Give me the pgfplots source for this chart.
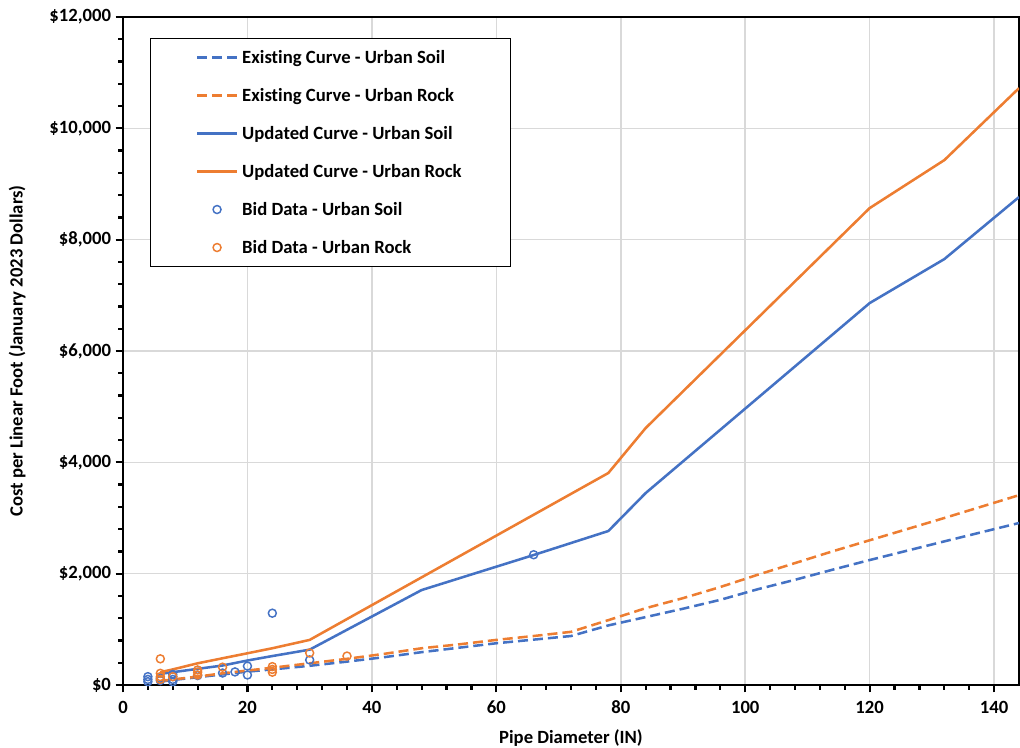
\documentclass[border=0pt]{standalone}
\usepackage{fontspec}
\setmainfont{Carlito}[Ligatures=NoCommon]
\usepackage{pgfplots}
\pgfplotsset{compat=1.18}
\definecolor{xblue}{HTML}{4472C4}
\definecolor{xorange}{HTML}{ED7D31}
\definecolor{xgrid}{HTML}{D9D9D9}
\begin{document}
\begin{tikzpicture}[font=\fontsize{14}{16}\selectfont\bfseries]
\useasboundingbox (-92.25pt,-47.25pt) rectangle (672.75pt,513.75pt);
\begin{axis}[
  at={(0,0)}, anchor=south west, scale only axis,
  width=672pt, height=501pt,
  xmin=0, xmax=144, ymin=0, ymax=12000,
  xtick={0,20,...,140}, ytick={0,2000,...,12000},
  minor x tick num=4, minor y tick num=4,
  tick pos=left, tick align=outside,
  major tick length=5.5pt, minor tick length=3.5pt,
  every tick/.style={black, line width=1.7pt},
  xmajorgrids, ymajorgrids,
  grid style={xgrid, line width=1.1pt},
  axis line style={line width=2.2pt},
  clip mode=individual,
  /pgf/number format/assume math mode=true,
  /pgf/number format/1000 sep={,},
  scaled y ticks=false,
  yticklabel={\$\pgfmathprintnumber{\tick}},
  tick label style={font=\fontsize{14}{16}\selectfont\bfseries},
  label style={font=\fontsize{14}{16}\selectfont\bfseries},
  xticklabel shift=3pt,
  xlabel shift=5pt,
  ylabel shift=11pt,
  xlabel={Pipe Diameter (IN)},
  ylabel={Cost per Linear Foot (January 2023 Dollars)},
  legend cell align=left,
  legend style={at={(axis description cs:0,1)}, anchor=north west,
    xshift=20.25pt, yshift=-15.75pt, draw=black, line width=0.8pt, fill=white,
    inner xsep=34pt, inner ysep=0pt, row sep=0pt,
    font=\fontsize{14}{16}\selectfont\bfseries,
    nodes={minimum height=28.5pt, inner ysep=0pt, inner xsep=3pt}},
  legend image code/.code={\draw[mark repeat=2,mark phase=2,#1] plot coordinates {(0cm,0cm) (0.525cm,0cm) (1.05cm,0cm)};},
]
\addplot[xblue, line width=1.9pt, dash pattern=on 7.5pt off 3.75pt] coordinates {
(6,60) (8,90) (12,140) (16,190) (20,240) (24,280) (30,345) (36,420) (42,500) (48,590) (54,670) (60,750) (66,815) (72,880) (78,1070) (84,1220) (90,1370) (96,1530) (102,1720) (108,1890) (114,2070) (120,2245) (132,2580) (144,2910)};
\addlegendentry{Existing Curve - Urban Soil}
\addplot[xorange, line width=1.9pt, dash pattern=on 7.5pt off 3.75pt] coordinates {
(6,70) (8,100) (12,150) (16,210) (20,260) (24,310) (30,390) (36,470) (42,560) (48,660) (54,730) (60,810) (66,880) (72,955) (78,1165) (84,1380) (90,1560) (96,1760) (102,1980) (108,2190) (114,2400) (120,2600) (132,3000) (144,3410)};
\addlegendentry{Existing Curve - Urban Rock}
\addplot[xblue, line width=1.9pt] coordinates {
(6,200) (8,230) (12,290) (16,350) (20,440) (24,520) (30,635) (48,1706) (66,2335) (78,2766) (84,3448) (120,6861) (132,7651) (144,8765)};
\addlegendentry{Updated Curve - Urban Soil}
\addplot[xorange, line width=1.9pt] coordinates {
(6,230) (8,280) (12,390) (16,480) (20,570) (24,660) (30,810) (78,3808) (84,4616) (120,8567) (132,9429) (144,10722)};
\addlegendentry{Updated Curve - Urban Rock}
\addplot[only marks, mark=o, mark size=3pt, xblue, line width=1.1pt] coordinates {
(4,60) (4,100) (4,150) (6,80) (6,120) (8,60) (8,100) (8,150) (8,190) (12,170) (16,215) (18,235) (20,180) (20,340) (24,1290) (30,450) (66,2340)};
\addlegendentry{Bid Data - Urban Soil}
\addplot[only marks, mark=o, mark size=3pt, xorange, line width=1.1pt] coordinates {
(6,470) (6,210) (6,150) (6,100) (8,150) (12,180) (12,230) (12,270) (16,320) (24,230) (24,280) (24,330) (30,575) (36,520)};
\addlegendentry{Bid Data - Urban Rock}
\end{axis}
\end{tikzpicture}
\end{document}
